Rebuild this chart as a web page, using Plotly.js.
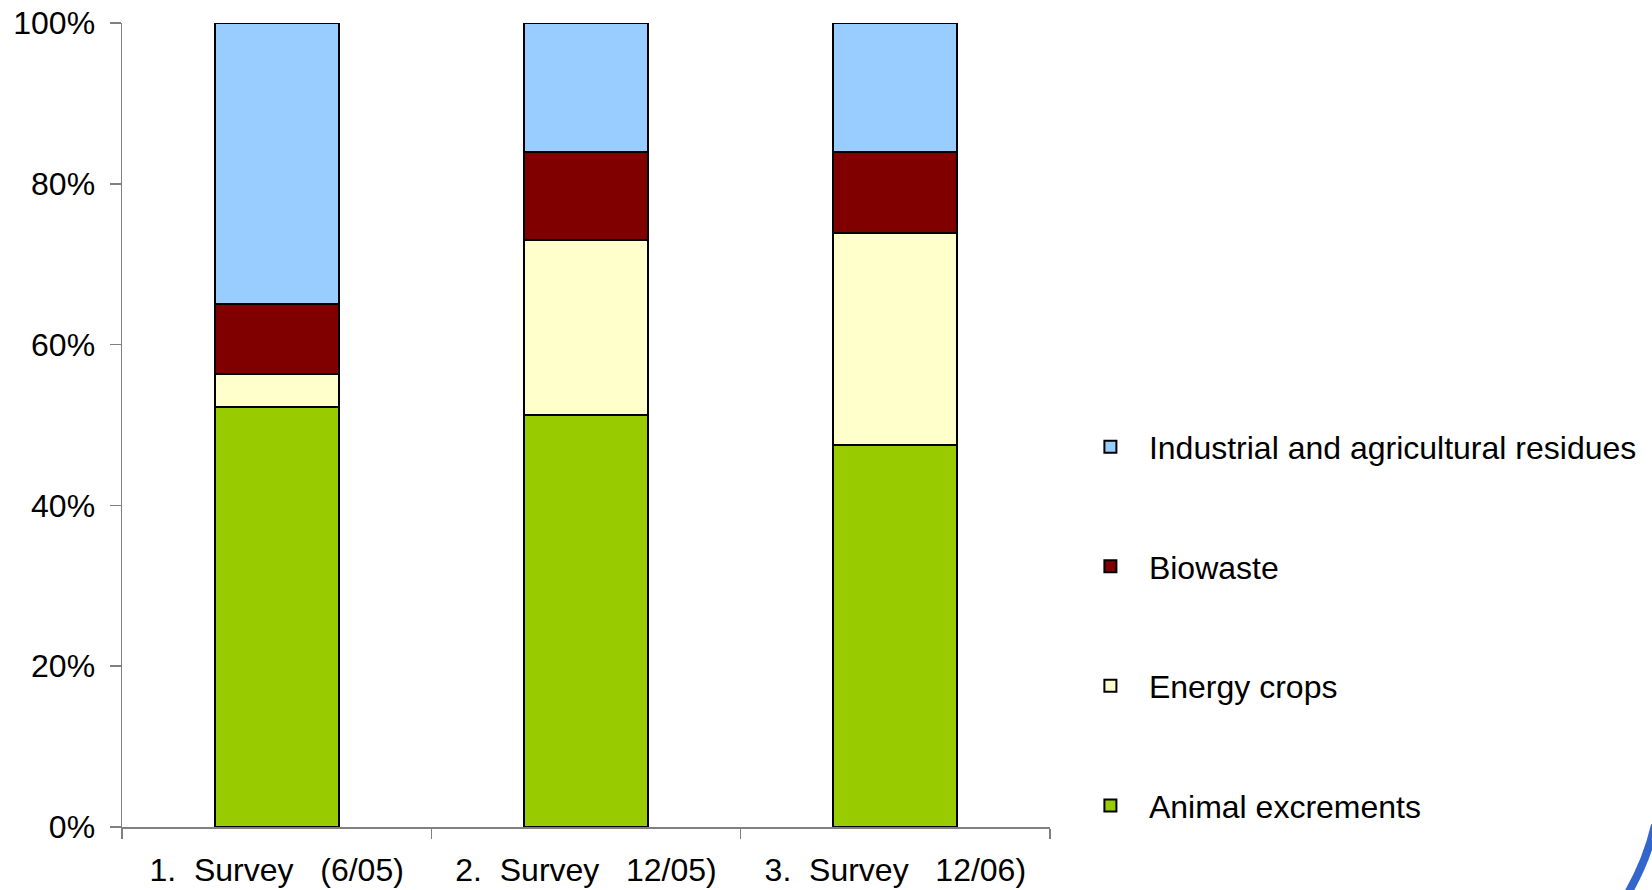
<!DOCTYPE html>
<html>
<head>
<meta charset="utf-8">
<script src="https://cdn.plot.ly/plotly-3.0.1.min.js"></script>
<style>html,body{margin:0;padding:0;background:#fff;}#chart{width:1652px;height:890px;}</style>
</head>
<body>
<div id="chart"></div>
<script>
const categories = ["1.\u00A0\u00A0Survey\u00A0\u00A0\u00A0(6/05)", "2.\u00A0\u00A0Survey\u00A0\u00A0\u00A012/05)", "3.\u00A0\u00A0Survey\u00A0\u00A0\u00A012/06)"];
const animalExcrements = [52.2, 51.2, 47.5];
const energyCrops = [4.1, 21.8, 26.4];
const biowaste = [8.8, 11.0, 10.1];
const industrialResidues = [34.9, 16.0, 16.0];
const seriesNames = ["Animal excrements", "Energy crops", "Biowaste", "Industrial and agricultural residues"];
const seriesColors = ["#99CC00", "#FFFFCC", "#800000", "#99CCFF"];
const yTickVals = [0, 20, 40, 60, 80, 100];
const yTickText = ["0%", "20%", "40%", "60%", "80%", "100%"];

const seriesValues = [animalExcrements, energyCrops, biowaste, industrialResidues];
const traces = seriesValues.map((vals, i) => ({
  type: "bar",
  x: categories,
  y: vals,
  name: seriesNames[i],
  legendgroup: "g" + i,
  legendrank: 100 - i,
  marker: {color: seriesColors[i], line: {color: "#000000", width: 2}},
  hoverinfo: "name+y"
}));

const FONT = "Liberation Sans, Arial, sans-serif";
const layout = {
  width: 1652,
  height: 890,
  margin: {l: 122, r: 602, t: 23, b: 63, autoexpand: false},
  paper_bgcolor: "#ffffff",
  plot_bgcolor: "#ffffff",
  barmode: "stack",
  bargap: 0.6,
  font: {family: FONT, size: 32, color: "#000000"},
  showlegend: true,
  legend: {
    x: 1.0236, xanchor: "left",
    y: 0.507, yanchor: "top",
    traceorder: "grouped",
    tracegroupgap: 75,
    itemwidth: 67,
    font: {family: FONT, size: 32, color: "#000000"},
    bgcolor: "rgba(0,0,0,0)"
  },
  xaxis: {
    type: "category",
    range: [-0.5, 2.5],
    showline: true, linecolor: "#808080", linewidth: 1.5,
    ticks: "outside", tickson: "boundaries", ticklen: 10, tickcolor: "#808080", tickwidth: 1.5,
    showgrid: false, zeroline: false,
    tickfont: {family: FONT, size: 32, color: "#000000"},
    ticklabelstandoff: 14
  },
  yaxis: {
    range: [0, 100],
    tickvals: yTickVals,
    ticktext: yTickText,
    showline: true, linecolor: "#808080", linewidth: 1.5,
    ticks: "outside", ticklen: 11, tickcolor: "#808080", tickwidth: 1.5,
    showgrid: false, zeroline: false,
    tickfont: {family: FONT, size: 32, color: "#000000"},
    ticklabelstandoff: 8
  },
  shapes: [{
    type: "path",
    xref: "paper", yref: "paper",
    path: "M 1.6520 0.0025 Q 1.6430 -0.0420 1.6225 -0.0830",
    line: {color: "#3366CC", width: 8}
  }]
};

Plotly.newPlot("chart", traces, layout, {displayModeBar: false, staticPlot: true});
</script>
</body>
</html>
